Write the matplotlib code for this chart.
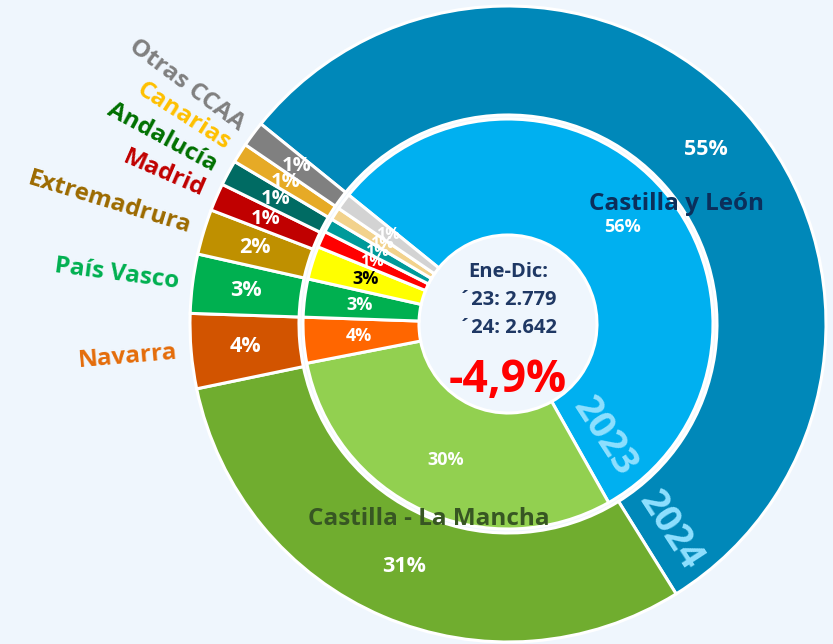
import numpy as np
import matplotlib.pyplot as plt

# cuota por comunidad autonoma (% del total), anillo interior 2023, exterior 2024
regiones = ['Castilla y León', 'Castilla - La Mancha', 'Navarra', 'País Vasco',
            'Extremadrura', 'Madrid', 'Andalucía', 'Canarias', 'Otras CCAA']
cuota_2023 = [56.0, 30.1, 3.6, 3.0, 2.6, 1.3, 1.1, 1.0, 1.3]
cuota_2024 = [55.3, 30.6, 3.8, 3.0, 2.3, 1.4, 1.3, 1.0, 1.3]
total_2023 = '2.779'
total_2024 = '2.642'
variacion = '-4,9%'

colores_2024 = ['#0088B9', '#70AD2F', '#D25400', '#00B050', '#BF9000',
                '#C00000', '#006B63', '#E6AA26', '#808080']
colores_2023 = ['#00B0F0', '#92D050', '#FF6600', '#00B050', '#FFFF00',
                '#FF0000', '#009A9A', '#F2D28C', '#D3D3D3']
colores_etiqueta = ['#0B2F5B', '#375623', '#E46C0A', '#00B050', '#9C6A00',
                    '#C00000', '#007000', '#FFC000', '#808080']

fondo = '#EFF6FD'
plt.rcParams['font.family'] = ['Open Sans', 'DejaVu Sans']

fig = plt.figure(figsize=(8.33, 6.44), dpi=100, facecolor=fondo)
ax = fig.add_axes([0, 0, 1, 1])
ax.set_facecolor(fondo)

cx, cy = 508, 320
r_ext, r_int = 318, 205
inicio = 141.0

w_ext, t_ext, p_ext = ax.pie(cuota_2024, radius=r_ext, center=(cx, cy), startangle=inicio,
                             counterclock=False, colors=colores_2024,
                             wedgeprops=dict(width=109, edgecolor='white', linewidth=2.2),
                             autopct='%.0f%%', pctdistance=0.83,
                             textprops=dict(color='white', fontweight='bold', fontsize=15.5))
w_int, t_int, p_int = ax.pie(cuota_2023, radius=r_int, center=(cx, cy), startangle=inicio,
                             counterclock=False, colors=colores_2023,
                             wedgeprops=dict(width=116, edgecolor='white', linewidth=2.2),
                             autopct='%.0f%%', pctdistance=0.73,
                             textprops=dict(color='white', fontweight='bold', fontsize=13))

for t in p_ext[5:]:
    t.set_fontsize(14.5)
for t in p_int[:2]:
    t.set_fontsize(13)
for t in p_int[5:]:
    t.set_fontsize(11.5)
p_int[4].set_color('black')

# etiquetas exteriores, en direccion radial
for i in range(2, len(regiones)):
    w = w_ext[i]
    mid = (w.theta1 + w.theta2) / 2
    ang = np.radians(mid)
    ax.text(cx + (r_ext + 14) * np.cos(ang), cy + (r_ext + 14) * np.sin(ang), regiones[i],
            rotation=mid - 180, rotation_mode='anchor', ha='right', va='center',
            color=colores_etiqueta[i], fontsize=17.5, fontweight='bold')

# etiquetas de las dos comunidades principales
for i, (desv, rr) in enumerate([(-6, 207), (1, 211)]):
    w = w_ext[i]
    ang = np.radians((w.theta1 + w.theta2) / 2 + desv)
    ax.text(cx + rr * np.cos(ang), cy + rr * np.sin(ang), regiones[i],
            ha='center', va='center', color=colores_etiqueta[i],
            fontsize=17.5, fontweight='bold')

# nombre de cada serie junto al borde de Castilla y Leon
for w, rr, anio in [(w_int[0], 148, '2023'), (w_ext[0], 263, '2024')]:
    a = w.theta1 + np.degrees(29 / rr)
    ax.text(cx + rr * np.cos(np.radians(a)), cy + rr * np.sin(np.radians(a)), anio,
            rotation=(a + w.theta1) / 2 - 2, rotation_mode='anchor', ha='center', va='center',
            color='#8FE0FF', fontsize=27, fontweight='bold')

# texto central
ax.text(cx, cy + 52, 'Ene-Dic:', ha='center', va='center', color='#1F3864',
        fontsize=14.5, fontweight='bold')
ax.text(cx, cy + 24, '´23: ' + total_2023, ha='center', va='center', color='#1F3864',
        fontsize=14.5, fontweight='bold')
ax.text(cx, cy - 4, '´24: ' + total_2024, ha='center', va='center', color='#1F3864',
        fontsize=14.5, fontweight='bold')
ax.text(cx, cy - 56, variacion, ha='center', va='center', color='#FF0000',
        fontsize=32, fontweight='bold')

ax.set_xlim(0, 833)
ax.set_ylim(0, 644)
ax.set_aspect('equal')
ax.axis('off')

fig.savefig('out.png', dpi=100, facecolor=fondo)
